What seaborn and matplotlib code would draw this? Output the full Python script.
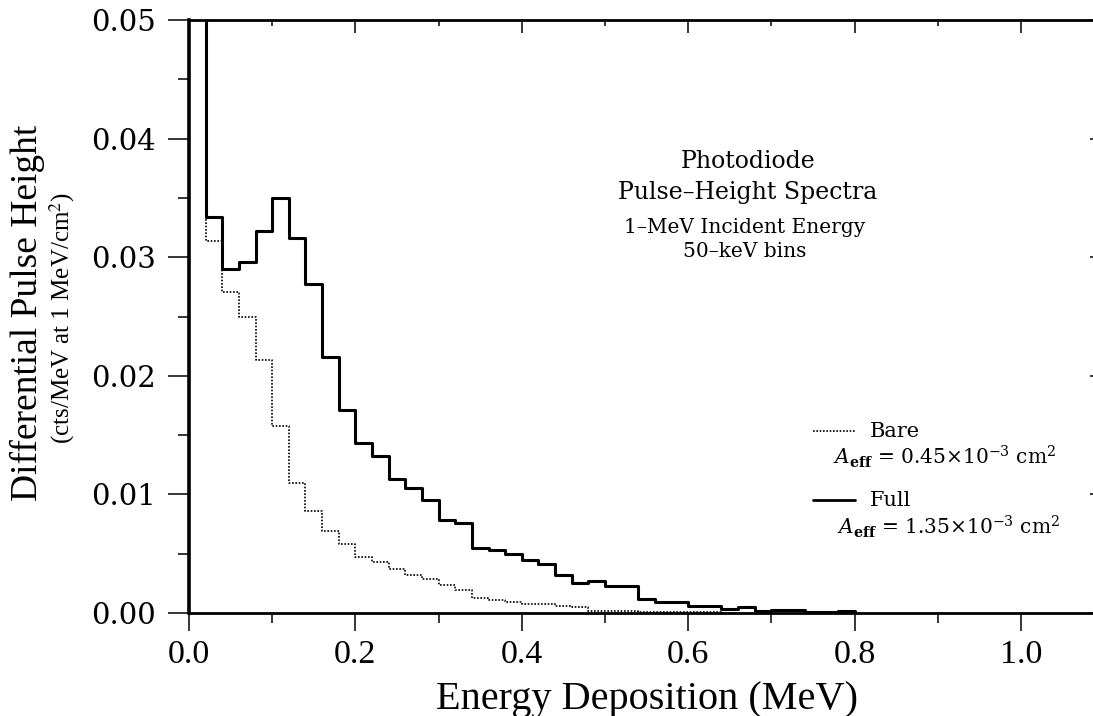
import numpy as np
import matplotlib
matplotlib.use("Agg")
import matplotlib.pyplot as plt
from matplotlib.ticker import MultipleLocator, FormatStrFormatter
import seaborn as sns

# 20-keV histogram grid (MeV)
bin_width = 0.02
full_edges = [round(v, 2) for v in np.arange(0.0, 0.80 + 1e-9, bin_width)]

# Differential pulse height, full detector (cts/MeV at 1 MeV/cm^2)
full_counts = [
    0.0600, 0.0334, 0.0290, 0.0296, 0.0322, 0.0350, 0.0316, 0.0277,
    0.0216, 0.0171, 0.0143, 0.0132, 0.0113, 0.0105, 0.0095, 0.0078,
    0.0076, 0.0055, 0.0053, 0.0050, 0.0045, 0.0041, 0.0032, 0.0025,
    0.0027, 0.0023, 0.0023, 0.0012, 0.00095, 0.00095, 0.0006, 0.0006,
    0.0003, 0.00048, 0.0002, 0.00025, 0.00025, 0.00005, 0.00005, 0.0002,
]

# Differential pulse height, bare detector
bare_counts = [
    0.0600, 0.0314, 0.0271, 0.0250, 0.0213, 0.0158, 0.0110, 0.0086,
    0.0069, 0.0058, 0.0047, 0.0043, 0.0037, 0.0032, 0.0029, 0.0024,
    0.0019, 0.0013, 0.0011, 0.0009, 0.00076, 0.00076, 0.00062, 0.00053,
    0.0002, 0.00018, 0.00015, 0.00012, 0.0001, 0.0001, 0.00006, 0.00006,
    0.00003,
]
bare_edges = full_edges[: len(bare_counts) + 1]

x_major_ticks = [0.0, 0.2, 0.4, 0.6, 0.8, 1.0]
y_major_ticks = [0.00, 0.01, 0.02, 0.03, 0.04, 0.05]

sns.set_style("white")
plt.rcParams["font.family"] = ["DejaVu Serif"]
plt.rcParams["mathtext.fontset"] = "dejavuserif"
for key in ["text.color", "axes.labelcolor", "xtick.color", "ytick.color",
            "axes.edgecolor"]:
    plt.rcParams[key] = "black"

W, H = 1093, 716
fig = plt.figure(figsize=(W / 100, H / 100), dpi=100)

# axes frame in pixels: x 0 -> 189 px, 1.0 MeV -> 1021 px; y 0 -> 613 px, 0.05 -> 20 px
px_per_mev = 832.0
ax_left, ax_right = 189, 189 + 1.1 * px_per_mev
ax_top, ax_bot = 20, 613
ax = fig.add_axes([ax_left / W, 1 - ax_bot / H,
                   (ax_right - ax_left) / W, (ax_bot - ax_top) / H])

def centers(edges):
    e = np.asarray(edges)
    return (e[:-1] + e[1:]) / 2

sns.histplot(x=centers(bare_edges), weights=bare_counts, bins=bare_edges,
             element="step", fill=False, color="black",
             linewidth=1.2, linestyle=(0, (1.0, 1.0)), ax=ax)
sns.histplot(x=centers(full_edges), weights=full_counts, bins=full_edges,
             element="step", fill=False, color="black",
             linewidth=2.2, ax=ax)

ax.set_xlim(0, 1.1)
ax.set_ylim(0, 0.05)

for side in ["left", "right", "top", "bottom"]:
    ax.spines[side].set_visible(True)
    ax.spines[side].set_color("black")
    ax.spines[side].set_linewidth(2.0)
ax.spines["left"].set_linewidth(2.6)

ax.set_xticks(x_major_ticks)
ax.set_yticks(y_major_ticks)
ax.xaxis.set_minor_locator(MultipleLocator(0.1))
ax.yaxis.set_minor_locator(MultipleLocator(0.005))
ax.xaxis.set_major_formatter(FormatStrFormatter("%.1f"))
ax.yaxis.set_major_formatter(FormatStrFormatter("%.2f"))

ax.tick_params(axis="x", which="major", direction="out", length=13, width=1.1,
               pad=6, labelsize=24.5, bottom=True, top=False, color="black")
ax.tick_params(axis="x", which="minor", direction="out", length=7, width=1.1,
               bottom=True, top=False, color="black")
ax.tick_params(axis="y", which="major", direction="out", length=15, width=1.1,
               pad=9, labelsize=21, left=True, right=False, color="black")
ax.tick_params(axis="y", which="minor", direction="out", length=8, width=1.1,
               left=True, right=False, color="black")
for lab in ax.get_xticklabels():
    lab.set_family("Liberation Serif")

# inward ticks on top and right edges
top_ax = ax.secondary_xaxis("top")
top_ax.set_xticks(x_major_ticks)
top_ax.xaxis.set_minor_locator(MultipleLocator(0.1))
top_ax.tick_params(which="major", direction="in", length=9, width=1.1, labeltop=False)
top_ax.tick_params(which="minor", direction="in", length=4.5, width=1.1)
top_ax.spines["top"].set_visible(False)

right_ax = ax.secondary_yaxis("right")
right_ax.set_yticks(y_major_ticks)
right_ax.yaxis.set_minor_locator(MultipleLocator(0.005))
right_ax.tick_params(which="major", direction="in", length=10, width=1.1, labelright=False)
right_ax.tick_params(which="minor", direction="in", length=5, width=1.1)
right_ax.spines["right"].set_visible(False)

ax_w = ax_right - ax_left
ax_h = ax_bot - ax_top

def to_ax(px, py):
    return (px - ax_left) / ax_w, (ax_bot - py) / ax_h

# axis titles
ax.set_xlabel("Energy Deposition (MeV)", family="Liberation Serif", fontsize=29)
ax.xaxis.set_label_coords(*to_ax(647, 699))
ax.xaxis.label.set_va("center")

ax.set_ylabel("Differential Pulse Height", family="Liberation Serif", fontsize=27)
ax.yaxis.set_label_coords(*to_ax(27, 313))
ax.yaxis.label.set_va("center")
ax.text(*to_ax(62, 318), "(cts/MeV at 1 MeV/cm$^2$)", transform=ax.transAxes,
        rotation=90, ha="center", va="center", family="Liberation Serif",
        fontsize=18, math_fontfamily="stix")

# annotation block
ax.text(*to_ax(748, 162), "Photodiode", transform=ax.transAxes,
        ha="center", va="center", fontsize=17)
ax.text(*to_ax(748, 192), "Pulse\u2013Height Spectra", transform=ax.transAxes,
        ha="center", va="center", fontsize=17)
ax.text(*to_ax(745, 227), "1\u2013MeV Incident Energy", transform=ax.transAxes,
        ha="center", va="center", fontsize=14.5)
ax.text(*to_ax(745, 251), "50\u2013keV bins", transform=ax.transAxes,
        ha="center", va="center", fontsize=14.5)

# key
def key_line(py, style, lw):
    x0, y0 = to_ax(813, py)
    x1, _ = to_ax(855, py)
    ax.plot([x0, x1], [y0, y0], transform=ax.transAxes, color="black",
            linestyle=style, linewidth=lw, clip_on=False)

aeff_bare = r"$\mathbf{\mathit{A}}_{\mathbf{eff}}$ = 0.45$\times$10$^{-3}$ cm$^2$"
aeff_full = r"$\mathbf{\mathit{A}}_{\mathbf{eff}}$ = 1.35$\times$10$^{-3}$ cm$^2$"

key_line(431, (0, (1.0, 1.0)), 1.2)
ax.text(*to_ax(870, 431), "Bare", transform=ax.transAxes, ha="left",
        va="center", fontsize=15)
ax.text(*to_ax(833, 457), aeff_bare, transform=ax.transAxes, ha="left",
        va="center", fontsize=14.5)
key_line(500, "-", 2.0)
ax.text(*to_ax(870, 500), "Full", transform=ax.transAxes, ha="left",
        va="center", fontsize=15)
ax.text(*to_ax(837, 527), aeff_full, transform=ax.transAxes, ha="left",
        va="center", fontsize=14.5)

fig.savefig("out.png", dpi=100)
